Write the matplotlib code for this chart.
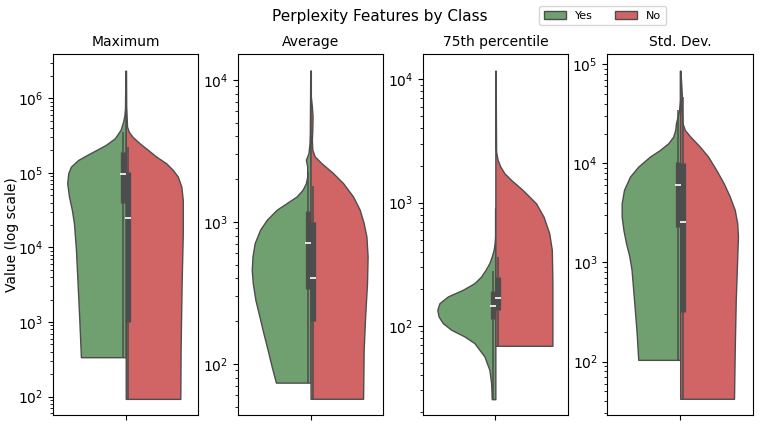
import numpy as np
import matplotlib
matplotlib.use("Agg")
import matplotlib.pyplot as plt
from matplotlib.patches import Patch

# violin outlines: value -> half width (x axis units)
max_yes_vals = [337, 1180, 3310, 9250, 21100, 31800, 48000, 72600, 98900, 121000, 149000,
                174000, 203000, 237000, 291000, 376000, 485000, 597000, 735000, 2340000]
max_yes_w = [0.308, 0.320, 0.331, 0.342, 0.356, 0.370, 0.390, 0.402, 0.395, 0.377, 0.327,
             0.265, 0.201, 0.137, 0.075, 0.036, 0.018, 0.009, 0.005, 0.002]
max_no_vals = [93, 423, 3310, 15500, 43400, 65300, 88900, 109000, 134000, 165000, 203000,
               249000, 305000, 356000, 416000, 794000, 2340000]
max_no_w = [0.375, 0.377, 0.384, 0.392, 0.392, 0.382, 0.358, 0.324, 0.279, 0.210, 0.153,
            0.096, 0.046, 0.021, 0.009, 0.003, 0.002]

avg_yes_vals = [73.8, 95.7, 125.6, 164.6, 215, 282, 370, 459, 570, 708, 879, 1033, 1216,
                1355, 1508, 1680, 1871, 2083, 2450, 2733, 3050, 3583, 4214, 11600]
avg_yes_w = [0.238, 0.267, 0.295, 0.324, 0.351, 0.379, 0.397, 0.404, 0.399, 0.384, 0.347,
             0.301, 0.233, 0.164, 0.096, 0.055, 0.032, 0.023, 0.023, 0.032, 0.014, 0.007,
             0.005, 0.002]
avg_no_vals = [56.8, 125.6, 215, 370, 570, 788, 980, 1216, 1508, 1871, 2203, 2589, 2884,
               3214, 3776, 4443, 5521, 6490, 7622, 11600]
avg_no_w = [0.361, 0.365, 0.375, 0.388, 0.392, 0.384, 0.365, 0.338, 0.292, 0.224, 0.155,
            0.075, 0.029, 0.012, 0.009, 0.012, 0.014, 0.009, 0.002, 0.002]

p75_yes_vals = [25.4, 34.3, 43.9, 56.4, 72.4, 82.0, 92.9, 105.2, 119, 134.8, 152.7, 173,
                196, 222, 251, 284, 323, 365, 413, 469, 530, 900]
p75_yes_w = [0.025, 0.029, 0.041, 0.075, 0.144, 0.212, 0.303, 0.361, 0.390, 0.399, 0.384,
             0.327, 0.224, 0.144, 0.098, 0.068, 0.041, 0.025, 0.012, 0.005, 0.002, 0.002]
p75_no_vals = [68.9, 222, 413, 565, 769, 988, 1268, 1528, 1731, 1960, 2219, 2515, 2674, 11780]
p75_no_w = [0.392, 0.392, 0.388, 0.370, 0.331, 0.279, 0.187, 0.108, 0.062, 0.034, 0.016,
            0.007, 0.005, 0.002]

std_yes_vals = [104, 194, 420, 842, 1148, 1566, 2133, 2904, 3963, 5407, 7365, 9290, 11720,
                13680, 15990, 18640, 21770, 25450, 29670, 34670, 43750, 86300]
std_yes_w = [0.288, 0.299, 0.317, 0.334, 0.349, 0.372, 0.390, 0.402, 0.402, 0.386, 0.345,
             0.288, 0.208, 0.139, 0.082, 0.048, 0.034, 0.029, 0.018, 0.007, 0.002, 0.002]
std_no_vals = [42.1, 131, 420, 910, 1825, 2494, 3399, 4627, 6310, 8590, 11720, 14790, 18640,
               21770, 25450, 32140, 40550, 47230, 86300]
std_no_w = [0.370, 0.375, 0.382, 0.390, 0.397, 0.392, 0.375, 0.341, 0.299, 0.248, 0.192,
            0.135, 0.070, 0.032, 0.016, 0.012, 0.009, 0.012, 0.002]

# inner box stats: [whisker low, q1, median, q3, whisker high]
max_yes_box = [337, 39900, 97600, 192000, 357000]
max_no_box = [93, 1010, 25000, 104000, 224000]
avg_yes_box = [73.8, 339, 708, 1194, 2250]
avg_no_box = [56.8, 202, 402, 995, 1795]
p75_yes_box = [25.4, 113, 145, 193, 279]
p75_no_box = [68.9, 135, 168, 248, 365]
std_yes_box = [104, 2270, 6070, 10420, 34700]
std_no_box = [42.1, 320, 2590, 10040, 47200]

titles = ["Maximum", "Average", "75th percentile", "Std. Dev."]
ylims = [(56.9, 3.93e6), (43.8, 15200), (18.97, 16070), (29.0, 127400)]
classes = ["Yes", "No"]
colors = {"Yes": "#70a070", "No": "#d16565"}
edge = "#4d4d4d"

panels = [
    (max_yes_vals, max_yes_w, max_no_vals, max_no_w, max_yes_box, max_no_box),
    (avg_yes_vals, avg_yes_w, avg_no_vals, avg_no_w, avg_yes_box, avg_no_box),
    (p75_yes_vals, p75_yes_w, p75_no_vals, p75_no_w, p75_yes_box, p75_no_box),
    (std_yes_vals, std_yes_w, std_no_vals, std_no_w, std_yes_box, std_no_box),
]

fig, axes = plt.subplots(1, 4, figsize=(7.59, 4.25), dpi=100)
fig.subplots_adjust(left=0.0698, right=0.992, bottom=0.024, top=0.873, wspace=0.27)

for ax, title, ylim, (yv, yw, nv, nw, ybox, nbox) in zip(axes, titles, ylims, panels):
    ax.set_yscale("log")
    yw = np.array(yw)
    nw = np.array(nw)
    ax.fill_betweenx(yv, -yw, 0, facecolor=colors["Yes"], edgecolor=edge, linewidth=1.0, zorder=1)
    ax.fill_betweenx(nv, 0, nw, facecolor=colors["No"], edgecolor=edge, linewidth=1.0, zorder=1)
    for box, off in [(ybox, -0.018), (nbox, 0.018)]:
        lo, q1, med, q3, hi = box
        ax.plot([off, off], [lo, hi], color=edge, linewidth=1.1, solid_capstyle="butt", zorder=2)
        ax.plot([off, off], [q1, q3], color=edge, linewidth=3.8, solid_capstyle="butt", zorder=3)
        ax.plot([off], [med], marker="_", color="white", markersize=4.5, markeredgewidth=1.2, zorder=4)
    ax.set_xlim(-0.5, 0.5)
    ax.set_ylim(*ylim)
    ax.set_xticks([0])
    ax.set_xticklabels([""])
    ax.set_title(title, fontsize=10)
    ax.tick_params(axis="y", labelsize=10)

axes[0].set_ylabel("Value (log scale)", fontsize=10)
axes[0].yaxis.set_label_coords(-0.235, 0.5)

fig.text(0.5, 1 - 17 / 425, "Perplexity Features by Class", ha="center", va="center", fontsize=11)
handles = [Patch(facecolor=colors[c], edgecolor=edge, label=c) for c in classes]
fig.legend(handles=handles, loc="center", bbox_to_anchor=(0.794, 0.9635), ncol=2,
           fontsize=8, frameon=True)

fig.savefig("out.png", dpi=100)
